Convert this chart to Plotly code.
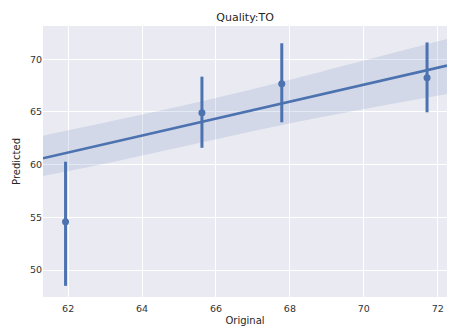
import plotly.graph_objects as go

# binned points (mean and CI)
bin_x = [61.93, 65.62, 67.78, 71.71]
bin_y = [54.58, 64.93, 67.68, 68.25]
bin_lo = [48.5, 61.6, 64.02, 64.97]
bin_hi = [60.28, 68.35, 71.52, 71.6]

# regression line
reg_x = [61.32, 72.25]
reg_y = [60.6, 69.4]

# confidence band
band_x = [61.32, 63.4, 65.6, 67.7, 69.9, 72.25]
band_hi = [62.75, 64.3, 66.0, 67.8, 69.8, 71.93]
band_lo = [58.92, 60.4, 62.1, 63.7, 65.2, 66.7]

x_ticks = [62, 64, 66, 68, 70, 72]
y_ticks = [50, 55, 60, 65, 70]

C = "#4C72B0"
fig = go.Figure()
fig.add_trace(go.Scatter(x=band_x, y=band_lo, mode="lines", line=dict(width=0, shape="spline"),
                         hoverinfo="skip", showlegend=False))
fig.add_trace(go.Scatter(x=band_x, y=band_hi, mode="lines", line=dict(width=0, shape="spline"),
                         fill="tonexty", fillcolor="rgba(76,114,176,0.15)", showlegend=False))
fig.add_trace(go.Scatter(x=reg_x, y=reg_y, mode="lines", line=dict(color=C, width=2.6), showlegend=False))
fig.add_trace(go.Scatter(
    x=bin_x, y=bin_y, mode="markers",
    marker=dict(color=C, size=7),
    error_y=dict(type="data", symmetric=False,
                 array=[h - m for h, m in zip(bin_hi, bin_y)],
                 arrayminus=[m - l for m, l in zip(bin_y, bin_lo)],
                 color=C, thickness=3, width=0),
    showlegend=False))

font = dict(family="DejaVu Sans", size=9.5, color="#333333")
fig.update_layout(
    width=454, height=326,
    margin=dict(l=43, r=7, t=26, b=29),
    paper_bgcolor="white", plot_bgcolor="#EAEAF2",
    font=font,
    title=dict(text="Quality:TO", x=0.54, xanchor="center", y=0.948, yanchor="middle",
               font=dict(family="DejaVu Sans", size=11, color="#262626")),
    xaxis=dict(range=[61.32, 72.25], tickvals=x_ticks, showgrid=True, gridcolor="white", gridwidth=1,
               zeroline=False, showline=False, ticks="", ticklen=0, ticklabelstandoff=4,
               automargin=False,
               title=dict(text="Original", standoff=4, font=dict(size=10, color="#262626"))),
    yaxis=dict(range=[47.44, 73.16], tickvals=y_ticks, showgrid=True, gridcolor="white", gridwidth=1,
               zeroline=False, showline=False, ticks="", ticklen=0, automargin=False,
               title=dict(text="Predicted", standoff=7, font=dict(size=10, color="#262626"))),
)
fig.write_html("out.html")
